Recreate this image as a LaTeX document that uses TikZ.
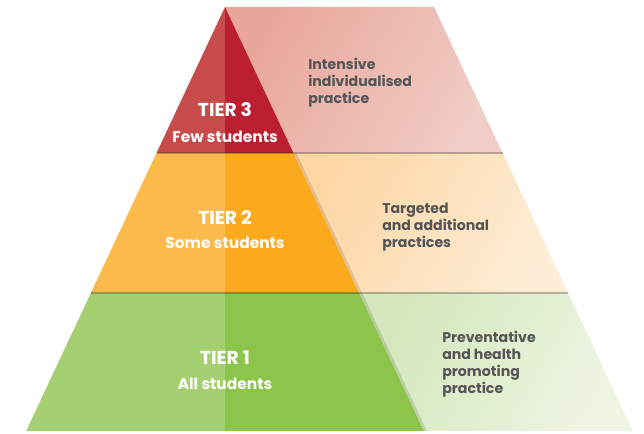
\documentclass[tikz,border=0pt]{standalone}
\usepackage{fontspec}
\setmainfont{Poppins}
\usepackage{xcolor}
\usepackage{tikz}
\usetikzlibrary{positioning, calc}
\definecolor{redlight}{HTML}{C64B4A}
\definecolor{reddark}{HTML}{BB1F30}
\definecolor{orangelight}{HTML}{FCBA4C}
\definecolor{orangedark}{HTML}{FBAA1D}
\definecolor{greenlight}{HTML}{A5D072}
\definecolor{greendark}{HTML}{8DC44B}
\definecolor{pinkA}{HTML}{E9A69A}
\definecolor{pinkB}{HTML}{F0CDC6}
\definecolor{peachA}{HTML}{FDD6A4}
\definecolor{peachB}{HTML}{FDEDD6}
\definecolor{mintA}{HTML}{D3E7BB}
\definecolor{mintB}{HTML}{EFF5E4}
\definecolor{txtgray}{HTML}{555555}
\tikzset{
  tiername/.style={text=white, font=\fontsize{14}{16}\selectfont\bfseries, anchor=base, inner sep=0pt},
  tiersub/.style={text=white, font=\fontsize{11.6}{14}\selectfont\bfseries, anchor=base, inner sep=0pt},
  practice/.style={text=txtgray, font=\fontsize{10.6}{12.75}\selectfont\bfseries, align=left,
                   anchor=base west, inner sep=0pt},
  seam/.style={draw=black, draw opacity=0.25, line width=1.6},
  edgeshade/.style={draw=black, draw opacity=0.12, line width=2},
}

\begin{document}
\begin{tikzpicture}[x=0.75pt, y=-0.75pt]
  \useasboundingbox (0,0) rectangle (644,434);

  %% Corner points
  \coordinate (apex) at (225,7);
  \coordinate (l3) at (156.5,153);  \coordinate (m3) at (225,153);  \coordinate (r3) at (293.5,153);
  \coordinate (l2) at (90.9,293);   \coordinate (m2) at (225,293);  \coordinate (r2) at (359.1,293);
  \coordinate (l1) at (26.1,431);   \coordinate (m1) at (225,431);  \coordinate (r1) at (423.9,431);
  \coordinate (p0) at (434,7);
  \coordinate (p3) at (502.5,153);
  \coordinate (p2) at (568.1,293);
  \coordinate (p1) at (632.9,431);

  %% Practice panels
  \shade[left color=pinkA, right color=pinkB, shading angle=60] (apex) -- (p0) -- (p3) -- (r3) -- cycle;
  \shade[left color=peachA, right color=peachB, shading angle=60] (r3) -- (p3) -- (p2) -- (r2) -- cycle;
  \shade[left color=mintA, right color=mintB, shading angle=60] (r2) -- (p2) -- (p1) -- (r1) -- cycle;
  \draw[edgeshade] ($(r3)+(1.5,0)$) -- ($(r2)+(1.5,0)$);
  \draw[edgeshade] ($(r2)+(1.5,0)$) -- ($(r1)+(1.5,0)$);

  %% Pyramid
  \fill[redlight] (apex) -- (l3) -- (m3) -- cycle;
  \fill[reddark] (apex) -- (m3) -- (r3) -- cycle;
  \fill[orangelight] (l3) -- (l2) -- (m2) -- (m3) -- cycle;
  \fill[orangedark] (m3) -- (m2) -- (r2) -- (r3) -- cycle;
  \fill[greenlight] (l2) -- (l1) -- (m1) -- (m2) -- cycle;
  \fill[greendark] (m2) -- (m1) -- (r1) -- (r2) -- cycle;

  %% Seams between tiers
  \draw[seam] (l3) -- (p3);
  \draw[seam] (l2) -- (p2);

  %% Tier labels
  \node[tiername] (tier3) at (225,117) {TIER 3};
  \node[tiersub] (few) at (225,143) {Few students};
  \node[tiername] (tier2) at (225,225) {TIER 2};
  \node[tiersub] (some) at (225,249) {Some students};
  \node[tiername] (tier1) at (225,365) {TIER 1};
  \node[tiersub] (all) at (225,390) {All students};

  %% Practice labels (anchored on the last line)
  \node[practice] (intensive) at (308,104) {Intensive\\individualised\\practice};
  \node[practice] (targeted) at (382,248) {Targeted\\and additional\\practices};
  \node[practice] (preventative) at (442,394) {Preventative\\and health\\promoting\\practice};

\end{tikzpicture}
\end{document}
